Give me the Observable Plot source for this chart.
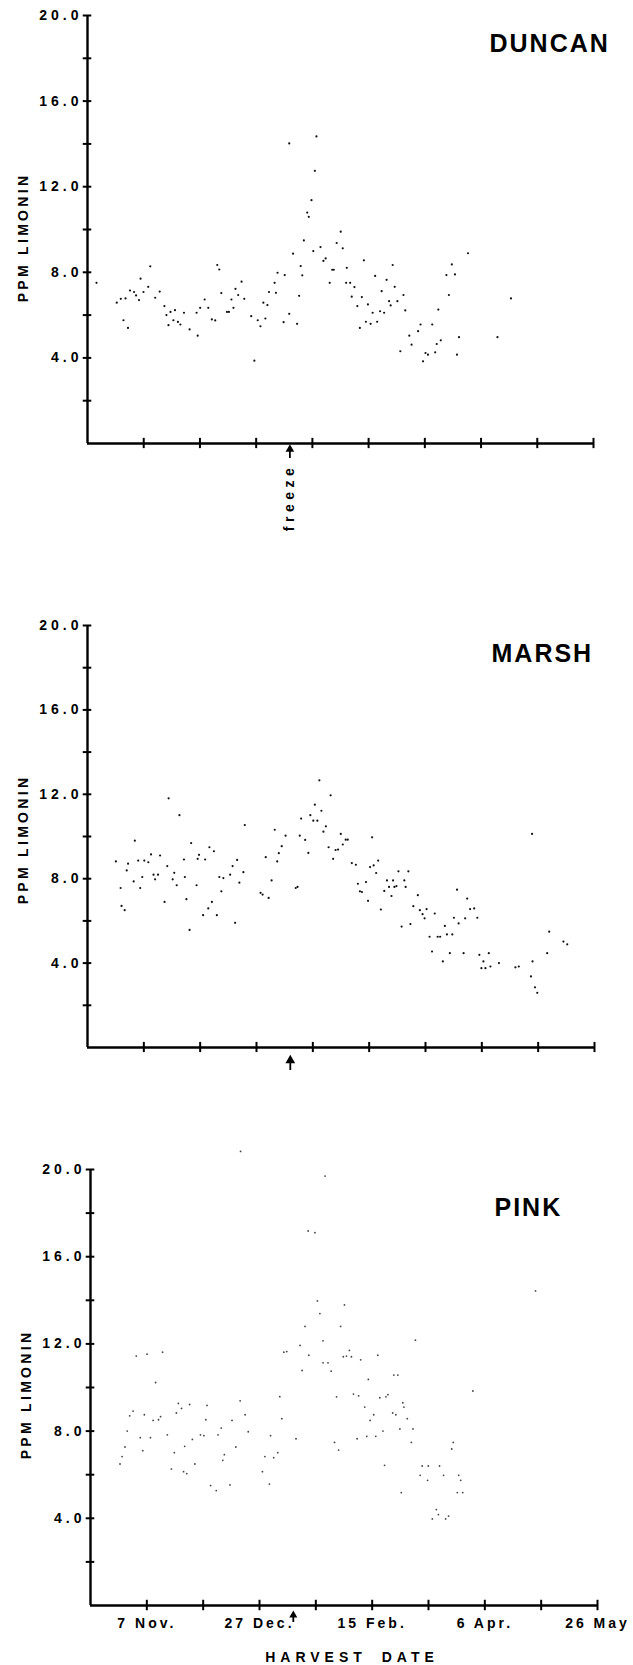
<!DOCTYPE html>
<html><head><meta charset="utf-8">
<script src="https://cdn.jsdelivr.net/npm/d3@7"></script>
<script src="https://cdn.jsdelivr.net/npm/@observablehq/plot@0.6"></script>
<style>
body{margin:0;background:#fff;}
#wrap{position:relative;width:633px;height:1665px;overflow:hidden;background:#fff;}
#wrap svg{position:absolute;left:0;overflow:visible;}
</style></head><body><div id="wrap"></div>
<script>
// ---- data (x = days after 13 Oct, y = ppm limonin) ----
const duncanDay = [4.0,13.0,14.8,16.9,16.0,18.0,18.9,20.7,21.6,22.9,23.6,24.9,27.0,27.9,30.1,32.1,34.2,35.1,36.0,36.9,38.2,38.9,40.2,41.3,42.9,45.4,48.5,49.0,50.1,52.1,53.7,55.3,56.8,57.7,58.6,59.5,62.0,62.9,64.0,64.9,65.8,67.0,68.5,69.7,72.8,74.2,75.7,76.9,78.2,79.1,80.0,80.7,83.2,83.8,84.5,87.2,87.7,89.7,89.7,91.4,93.2,94.1,94.8,95.5,96.2,97.7,98.4,99.6,100.4,101.1,101.8,103.6,104.9,105.9,107.7,108.8,109.5,110.8,112.6,113.5,115.0,115.3,116.8,117.5,118.7,120.0,121.1,122.0,122.9,123.8,124.7,125.9,126.8,127.9,128.8,130.1,130.8,131.9,133.0,134.1,134.8,135.7,136.6,137.8,139.1,140.5,141.3,143.1,144.1,147.0,148.1,149.2,150.3,151.4,153.3,154.6,155.3,156.0,157.1,159.6,160.7,162.0,163.4,164.3,165.2,169.2,182.3,188.3];
const duncanPpm = [7.51,6.58,6.76,6.78,5.76,5.40,7.15,7.08,6.92,6.70,7.70,7.08,7.32,8.28,6.81,7.10,6.42,6.00,5.53,6.15,5.76,6.23,5.68,5.56,6.11,5.33,6.11,5.04,6.34,6.73,6.34,5.80,5.75,8.34,8.13,7.03,6.15,6.15,6.73,6.34,7.23,6.94,7.56,6.76,5.95,3.87,5.76,5.48,6.58,5.84,6.47,7.08,7.51,7.04,7.98,5.67,7.87,14.02,6.06,8.87,5.59,6.90,8.29,7.86,9.49,10.79,10.59,11.37,8.99,12.74,14.35,9.18,8.53,8.65,7.51,8.12,8.12,9.37,9.90,9.12,7.51,8.21,7.51,6.86,7.31,6.42,5.40,6.84,8.56,5.69,6.50,5.59,6.11,7.83,5.69,6.18,7.12,6.11,7.65,6.65,6.45,8.34,7.32,6.65,4.31,6.94,6.22,5.04,4.62,5.25,5.56,3.84,4.23,4.15,5.56,4.26,4.65,6.26,4.82,7.87,6.94,8.37,7.90,4.15,4.97,8.89,4.97,6.78];

const marshDay = [12.6,14.7,15.1,16.5,17.4,18.0,21.0,20.5,22.5,23.4,24.3,25.2,27.0,28.2,29.3,30.0,31.3,32.2,34.2,35.4,36.0,37.8,38.5,39.6,40.8,42.8,43.2,43.9,45.3,46.0,48.4,48.9,49.5,51.3,52.2,53.6,54.1,55.2,56.1,57.4,58.5,59.4,60.3,63.3,64.4,65.5,66.4,67.4,69.2,69.8,76.8,77.7,79.1,80.4,81.7,83.1,84.2,84.9,86.2,87.9,92.4,93.2,94.2,94.8,96.6,98.0,98.9,100.2,100.9,102.0,102.9,103.8,104.7,105.8,107.0,107.9,109.0,110.1,111.2,112.4,113.3,114.6,115.5,117.3,119.1,120.0,120.9,121.8,123.6,124.5,125.4,126.3,127.0,128.1,129.0,130.2,131.7,132.9,133.8,134.9,135.6,136.2,137.1,138.0,139.4,140.6,141.2,142.4,143.3,144.6,146.6,147.5,148.7,149.6,150.5,151.8,152.9,154.1,155.4,156.5,157.7,158.6,159.5,160.8,161.9,162.6,164.0,164.7,166.9,167.6,168.5,169.8,171.6,173.0,173.9,174.8,175.7,176.6,178.1,178.8,182.6,189.9,191.4,196.8,197.3,197.5,198.6,199.6,204.0,204.9,211.2,212.9];
const marshPpm = [8.82,7.56,6.71,6.51,8.39,8.71,9.80,7.87,8.86,7.56,8.08,8.86,8.78,9.15,8.19,7.97,8.19,9.10,6.90,8.60,11.81,7.97,8.28,7.69,11.01,8.91,8.08,7.03,5.57,9.69,7.69,8.94,9.13,6.27,8.91,6.59,9.49,6.90,9.30,6.27,8.08,7.40,8.03,8.19,8.60,5.91,8.89,7.81,8.31,10.54,7.33,7.25,9.02,7.09,7.92,10.32,8.82,9.21,9.54,10.04,7.56,7.61,10.04,10.85,9.84,9.22,11.01,10.75,11.51,10.75,12.66,11.22,10.23,10.48,9.49,11.95,8.94,9.36,9.38,10.12,9.62,9.85,9.85,8.74,8.66,7.76,7.40,7.37,7.84,6.95,8.55,9.96,8.63,8.27,8.86,6.54,7.42,7.92,7.61,7.18,7.92,7.61,7.65,8.35,5.73,7.92,7.61,8.35,5.85,6.70,7.22,6.51,6.32,6.12,6.56,5.25,4.55,6.35,5.25,5.25,4.08,5.76,5.36,4.47,5.36,6.15,7.48,5.88,4.47,6.12,7.06,6.56,6.59,6.15,4.39,3.76,4.08,3.76,4.47,3.84,4.00,3.80,3.84,3.37,10.12,4.08,2.85,2.59,4.47,5.49,5.02,4.89];

const pinkDay = [13.1,14.0,15.3,16.3,17.4,18.9,20.3,22.1,23.2,23.9,25.1,26.6,27.8,28.9,30.2,31.1,32.0,34.1,35.9,37.2,38.1,39.0,40.4,41.3,41.8,42.7,44.0,45.2,46.3,48.8,50.3,51.2,51.7,53.3,55.8,56.6,58.0,58.7,59.4,61.9,62.8,64.5,66.4,66.6,68.6,70.0,76.3,77.4,79.4,79.9,81.3,83.1,84.0,84.9,85.8,87.1,91.2,93.0,93.9,95.2,96.6,96.9,99.6,100.7,101.8,103.2,103.2,104.1,105.4,106.8,108.3,109.2,110.1,111.0,112.2,112.7,113.6,114.9,115.8,116.7,118.3,119.0,119.9,121.7,122.6,123.3,124.1,125.7,126.6,127.5,128.4,129.8,130.5,131.1,132.0,134.1,134.6,135.5,136.4,137.3,137.9,138.6,139.1,140.6,142.4,143.1,144.2,146.3,147.2,149.9,149.6,151.7,153.5,154.4,154.9,156.7,157.6,158.9,160.3,161.0,162.8,163.4,164.3,165.2,169.7,197.5];
const pinkPpm = [6.49,6.83,7.27,8.00,8.70,8.92,11.44,7.70,7.10,8.75,11.53,7.70,8.49,10.23,8.52,8.66,11.62,7.83,6.26,7.01,8.83,9.27,9.04,6.14,7.30,6.05,9.22,7.62,6.49,7.83,7.79,8.52,9.18,5.50,5.27,7.83,8.14,6.66,6.92,5.53,8.49,7.27,9.39,20.83,8.75,7.97,6.14,6.83,5.57,7.79,6.78,7.01,9.58,8.57,11.62,11.65,7.65,11.93,10.78,12.80,17.18,11.48,17.10,13.97,13.39,12.14,11.13,19.70,11.13,10.75,7.48,9.57,7.13,12.80,11.41,13.79,11.44,11.70,11.41,9.70,7.65,9.62,11.27,9.10,7.76,10.37,8.49,8.75,7.76,11.48,9.53,8.00,6.43,9.57,9.67,8.83,10.57,8.75,10.57,8.10,5.18,9.30,9.10,8.57,7.48,8.10,12.17,5.97,6.40,6.40,5.74,3.97,4.40,4.17,6.40,5.97,3.97,4.10,7.18,7.48,5.18,5.97,5.74,5.18,9.84,14.43];

const yTicks = [2,4,6,8,10,12,14,16,18,20];
const yLabelTicks = [4,8,12,16,20];
const xTicks = [25,50,75,100,125,150,175,200,225];
const xLabelDays = [25,75,125,175,225];
const xLabels = ["7 Nov.","27 Dec.","15 Feb.","6 Apr.","26 May"];
const freezeDay = 90;
const yTitle = "PPM LIMONIN";
const xTitle = "HARVEST DATE";
const freezeText = "freeze";

function panel(o) {
  const data = o.day.map((d, i) => ({day: d, ppm: o.ppm[i]}));
  const marks = [
    Plot.ruleX([0], {y1: 0, y2: 20, strokeWidth: 2.4}),
    Plot.ruleY([0], {x1: 0, x2: 225, strokeWidth: 2.6}),
    Plot.ruleY(yTicks, {x1: -1.9, x2: 1.9, strokeWidth: 2}),
    Plot.ruleX(xTicks, {y1: -0.24, y2: 0.24, strokeWidth: 2}),
    Plot.axisY(yLabelTicks, {tickSize: 0, tickPadding: 5, tickFormat: d => d.toFixed(1), label: null, fontSize: 14}),
    Plot.text([yTitle], {text: d => d, frameAnchor: "left", textAnchor: "middle", lineAnchor: "middle", rotate: -90, dx: -64, dy: o.yTitleDy, fontSize: 14}),
    Plot.text([o.name], {text: d => d, frameAnchor: "top-left", dx: o.titleDx, dy: o.titleDy, textAnchor: "start", lineAnchor: "middle", fontSize: 25}),
    Plot.dot(data, {x: "day", y: "ppm", r: o.r, fill: o.fill}),
    // freeze arrow: shaft + solid head
    Plot.ruleX([freezeDay], {y1: 0, y2: o.arrowLen, dy: o.arrowDy, strokeWidth: 1.8}),
    Plot.dot([freezeDay], {x: d => d, y: o.arrowLen, dy: o.arrowDy + 1.5, symbol: "triangle", r: o.headR, fill: "black"})
  ];
  if (o.freeze) marks.push(Plot.text([freezeText], {text: d => d, x: () => freezeDay, y: () => 0, rotate: -90, dy: 54, fontSize: 14}));
  if (o.xaxis) {
    marks.push(Plot.axisX(xLabelDays, {tickSize: 0, tickPadding: 13, tickFormat: d => xLabels[xLabelDays.indexOf(d)], label: null, fontSize: 14}));
    marks.push(Plot.text([xTitle], {text: d => d, frameAnchor: "bottom", lineAnchor: "middle", dx: 8, dy: 52, fontSize: 14}));
  }
  const svg = Plot.plot({
    width: 633, height: o.height,
    marginTop: o.mt, marginBottom: o.mb, marginLeft: o.ml, marginRight: o.mr,
    x: {domain: [0, 225], axis: o.xaxis ? undefined : null},
    y: {domain: [0, 20]},
    style: {fontFamily: "'Liberation Sans', Arial, sans-serif", fontWeight: "bold", color: "black", background: "transparent", overflow: "visible"},
    marks
  });
  d3.select(svg).selectAll("text").each(function () {
    const t = this.textContent;
    let ls = null;
    if (/^\d+\.\d$/.test(t)) ls = "4px";
    else if (t === yTitle) ls = "3.3px";
    else if (t === o.name) ls = "2px";
    else if (t === freezeText) ls = "4.5px";
    else if (t === xTitle) { ls = "5px"; this.style.wordSpacing = "6px"; }
    else if (xLabels.includes(t)) ls = "3px";
    if (ls) this.style.letterSpacing = ls;
  });
  svg.style.top = o.top + "px";
  document.getElementById("wrap").appendChild(svg);
}

panel({name: "DUNCAN", day: duncanDay, ppm: duncanPpm, top: 0, height: 540, mt: 15, mb: 97, ml: 87, mr: 40,
  titleDx: 402, titleDy: 28, yTitleDy: 8, r: 1.1, fill: "#111", arrowLen: 0.5, arrowDy: 15, headR: 3.2, freeze: true, xaxis: false});
panel({name: "MARSH", day: marshDay, ppm: marshPpm, top: 540, height: 560, mt: 85, mb: 53, ml: 87, mr: 39,
  titleDx: 404, titleDy: 28, yTitleDy: 3, r: 1.1, fill: "#111", arrowLen: 0.55, arrowDy: 23, headR: 3.6, freeze: false, xaxis: false});
panel({name: "PINK", day: pinkDay, ppm: pinkPpm, top: 1100, height: 565, mt: 69, mb: 60, ml: 90, mr: 36,
  titleDx: 404, titleDy: 38, yTitleDy: 7, r: 0.9, fill: "#444", arrowLen: 0.4, arrowDy: 17, headR: 3, freeze: false, xaxis: true});
</script></body></html>
